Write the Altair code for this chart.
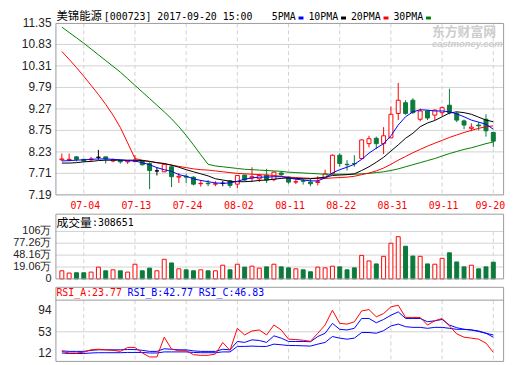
import altair as alt
import pandas as pd

# ---------------- data ----------------
dates = ["06-29", "06-30", "07-03", "07-04", "07-05", "07-06", "07-07", "07-10", "07-11", "07-12",
         "07-13", "07-14", "07-17", "07-18", "07-19", "07-20", "07-21", "07-24", "07-25", "07-26",
         "07-27", "07-28", "07-31", "08-01", "08-02", "08-03", "08-04", "08-07", "08-08", "08-09",
         "08-10", "08-11", "08-14", "08-15", "08-16", "08-17", "08-18", "08-21", "08-22", "08-23",
         "08-24", "08-25", "08-28", "08-29", "08-30", "08-31", "09-01", "09-04", "09-05", "09-06",
         "09-07", "09-08", "09-11", "09-12", "09-13", "09-14", "09-15", "09-18", "09-19", "09-20"]

opens = [8.04, 8.04, 8.11, 8.05, 8.04, 8.10, 8.11, 8.01, 8.02, 7.99,
         8.00, 8.01, 7.95, 7.77, 7.75, 7.87, 7.62, 7.64, 7.62, 7.46,
         7.47, 7.45, 7.47, 7.53, 7.45, 7.67, 7.60, 7.58, 7.67, 7.56,
         7.72, 7.62, 7.50, 7.53, 7.50, 7.49, 7.60, 7.71, 8.15, 7.93,
         7.95, 8.07, 8.43, 8.56, 8.43, 8.57, 9.16, 9.42, 9.48, 9.02,
         9.22, 9.12, 9.18, 9.36, 9.16, 8.98, 8.80, 8.88, 9.02, 8.70]
highs = [8.19, 8.19, 8.13, 8.06, 8.11, 8.28, 8.12, 8.07, 8.03, 8.03,
         8.15, 8.03, 7.98, 7.86, 7.95, 7.92, 7.72, 7.70, 7.64, 7.55,
         7.55, 7.52, 7.53, 7.55, 7.67, 7.68, 7.86, 7.70, 7.82, 7.76,
         7.76, 7.63, 7.58, 7.58, 7.57, 7.64, 7.80, 8.17, 8.20, 8.03,
         8.15, 8.53, 8.62, 8.60, 8.83, 9.33, 9.90, 9.48, 9.53, 9.28,
         9.24, 9.26, 9.33, 9.76, 9.20, 9.01, 8.92, 8.95, 9.14, 8.72]
lows = [8.01, 8.00, 8.00, 8.00, 8.01, 8.04, 7.95, 7.98, 7.95, 7.94,
        7.98, 7.90, 7.33, 7.66, 7.74, 7.38, 7.48, 7.48, 7.42, 7.39,
        7.40, 7.40, 7.40, 7.36, 7.35, 7.52, 7.50, 7.50, 7.48, 7.52,
        7.65, 7.46, 7.45, 7.44, 7.40, 7.42, 7.60, 7.68, 7.87, 7.78,
        7.87, 8.05, 8.34, 8.30, 8.18, 8.56, 9.00, 9.13, 9.15, 8.97,
        9.00, 9.00, 9.10, 9.14, 8.95, 8.78, 8.73, 8.75, 8.60, 8.35]
closes = [8.06, 8.05, 8.05, 8.01, 8.06, 8.10, 8.06, 8.04, 7.99, 8.01,
          8.03, 7.92, 7.78, 7.77, 7.93, 7.63, 7.64, 7.62, 7.45, 7.47,
          7.46, 7.46, 7.47, 7.42, 7.66, 7.55, 7.63, 7.66, 7.55, 7.74,
          7.68, 7.50, 7.51, 7.52, 7.46, 7.51, 7.70, 8.15, 7.95, 7.92,
          7.94, 8.52, 8.55, 8.43, 8.62, 9.14, 9.48, 9.16, 9.18, 9.22,
          9.05, 9.24, 9.30, 9.18, 9.00, 8.88, 8.83, 8.86, 8.74, 8.49]

ma5 = [8.01, 8.02, 8.03, 8.04, 8.05, 8.06, 8.06, 8.05, 8.04, 8.02,
       8.01, 7.97, 7.92, 7.85, 7.80, 7.76, 7.68, 7.64, 7.58, 7.54,
       7.51, 7.48, 7.47, 7.48, 7.52, 7.57, 7.60, 7.62, 7.62, 7.63,
       7.63, 7.60, 7.57, 7.55, 7.53, 7.53, 7.60, 7.72, 7.80, 7.86,
       7.93, 8.05, 8.20, 8.32, 8.43, 8.62, 8.88, 9.08, 9.20, 9.25,
       9.24, 9.22, 9.22, 9.20, 9.15, 9.08, 9.00, 8.95, 8.90, 8.78]
ma10 = [7.96, 7.96, 7.97, 7.99, 8.00, 8.02, 8.03, 8.03, 8.03, 8.03,
        8.03, 8.02, 8.00, 7.97, 7.95, 7.91, 7.86, 7.80, 7.75, 7.70,
        7.65, 7.58, 7.55, 7.52, 7.51, 7.51, 7.52, 7.54, 7.55, 7.57,
        7.59, 7.60, 7.59, 7.58, 7.58, 7.60, 7.62, 7.66, 7.67, 7.68,
        7.70, 7.78, 7.87, 7.98, 8.10, 8.25, 8.40, 8.56, 8.68, 8.84,
        8.93, 8.99, 9.08, 9.17, 9.20, 9.18, 9.14, 9.07, 9.00, 8.96]
ma20 = [10.66, 10.47, 10.27, 10.06, 9.84, 9.62, 9.38, 9.12, 8.82, 8.45,
        8.07, 8.03, 8.00, 7.97, 7.94, 7.91, 7.88, 7.85, 7.82, 7.80,
        7.79, 7.77, 7.75, 7.73, 7.71, 7.70, 7.69, 7.68, 7.67, 7.66,
        7.64, 7.62, 7.61, 7.60, 7.59, 7.59, 7.59, 7.60, 7.61, 7.62,
        7.64, 7.68, 7.72, 7.77, 7.84, 7.93, 8.03, 8.12, 8.21, 8.29,
        8.37, 8.44, 8.51, 8.58, 8.64, 8.70, 8.75, 8.80, 8.84, 8.86]
ma30 = [11.25, 11.12, 10.99, 10.86, 10.72, 10.58, 10.44, 10.30, 10.16, 10.00,
        9.84, 9.68, 9.52, 9.36, 9.20, 9.03, 8.84, 8.63, 8.40, 8.16,
        7.93, 7.89, 7.87, 7.85, 7.83, 7.81, 7.80, 7.79, 7.78, 7.77,
        7.76, 7.74, 7.73, 7.72, 7.71, 7.70, 7.69, 7.69, 7.69, 7.69,
        7.69, 7.70, 7.71, 7.73, 7.75, 7.78, 7.82, 7.87, 7.92, 7.97,
        8.02, 8.07, 8.13, 8.19, 8.24, 8.29, 8.33, 8.38, 8.43, 8.47]

volume_wan = [9.8, 4.3, 5.0, 5.0, 6.6, 18.7, 9.8, 12.2, 9.8, 6.6,
              25.9, 9.8, 16.3, 9.8, 37.9, 29.0, 14.6, 12.2, 9.8, 12.2,
              9.8, 9.8, 23.5, 12.2, 25.9, 18.7, 21.1, 16.3, 19.4, 25.9,
              19.4, 17.0, 14.6, 12.2, 7.4, 18.7, 17.0, 21.1, 19.4, 12.2,
              17.0, 47.5, 33.9, 26.6, 45.2, 77.1, 93.2, 69.9, 45.9, 45.2,
              26.6, 25.9, 40.3, 53.8, 31.4, 19.4, 23.5, 14.6, 19.4, 30.87]

rsi_a = [16, 13, 13, 14.5, 19, 20, 19, 18, 16, 23.5,
         23.5, 13, 5.5, 5.5, 42.7, 20.4, 17.3, 17.3, 9.8, 8.6,
         8.6, 11, 32.8, 18, 59.5, 47, 54.5, 56.4, 47, 65.7,
         56.4, 39, 38.3, 37, 35, 50.2, 65.7, 93.6, 68.8, 67.5,
         71.8, 92.3, 94.8, 81.2, 87.4, 100, 103, 80, 80, 80,
         65.7, 73.7, 78, 64, 49, 42.8, 41, 39, 31.6, 14.2]
rsi_b = [17, 16, 16, 16, 18, 19, 19, 19, 19, 19.5,
         19.5, 18, 16, 16, 21, 20, 19, 19, 17, 16,
         16, 16, 20, 19, 34.7, 33, 37.8, 36.6, 32.9, 45.3,
         41, 34.7, 34.7, 34.7, 34.2, 44, 50.2, 68.8, 57.6, 56.4,
         59.5, 78.1, 78.1, 70, 76.2, 84.2, 90.5, 78.1, 78.1, 78.1,
         71.9, 73.7, 76.2, 65.7, 60.7, 57.6, 56.4, 54.5, 50.2, 42.8]
rsi_c = [13, 12, 12, 12, 13, 13.5, 13.5, 13.5, 13.5, 14,
         14, 14, 13, 13, 15, 15, 15, 15, 14, 13.5,
         13.5, 13.5, 15, 15, 25.4, 25.4, 26, 25.4, 25.4, 29.7,
         28.5, 27, 27, 26.5, 26, 29.7, 32.9, 44, 41, 39,
         41, 51.6, 51.6, 50.2, 55.1, 63.9, 67.5, 62.6, 61.3, 61.3,
         59.5, 61.3, 61.3, 59.5, 57.6, 57.6, 56.4, 53.4, 50.2, 47]

price_ticks = [11.35, 10.83, 10.31, 9.79, 9.27, 8.75, 8.23, 7.71, 7.19]
vol_ticks = [106, 77.26, 48.16, 19.06, -10.04]
vol_tick_labels = ["106万", "77.26万", "48.16万", "19.06万", "0"]
rsi_ticks = [94, 53, 12]
date_tick_idx = [3, 10, 17, 24, 31, 38, 45, 52, 59]

stock_name = "美锦能源"
stock_info = "[000723] 2017-09-20 15:00"
ma_names = ["5PMA", "10PMA", "20PMA", "30PMA"]
vol_title = "成交量"
vol_last = 308651
rsi_names = ["RSI_A", "RSI_B", "RSI_C"]
rsi_last = [23.77, 42.77, 46.83]
watermark_cn = "东方财富网"
watermark_en = "eastmoney.com"

# ---------------- styling / geometry ----------------
RED = "#ff0000"
GREEN = "#0b7a3b"
BLUE = "#0000ff"
BLACK = "#000000"
MAGREEN = "#008000"
GRID = "#d2d2d2"
BORDER = "#9a9a9a"
LABEL = "#222222"
MONO = "DejaVu Sans Mono"
CJK = "Noto Sans CJK SC"
NUMF = "Liberation Sans"

W, H = 454, 343
P_TOP, P_BOT = 0.5, 174
V_TOP, V_GRID_TOP, V_BOT = 193.5, 211, 259
R_TOP, R_SEP, R_BOT = 267.5, 280.5, 342.5

n = len(dates)
df = pd.DataFrame({
    "i": list(range(n)), "date": dates,
    "o": opens, "h": highs, "l": lows, "c": closes,
    "ma5": ma5, "ma10": ma10, "ma20": ma20, "ma30": ma30,
    "vol": volume_wan, "ra": rsi_a, "rb": rsi_b, "rc": rsi_c,
})
df["dir"] = ["up" if c > o else ("down" if c < o else "flat") for o, c in zip(opens, closes)]
df["vdir"] = ["up" if c >= o else "down" for o, c in zip(opens, closes)]

xs = alt.Scale(domain=[-0.2, n - 0.2], range=[0, W], nice=False, zero=False)
ps = alt.Scale(domain=[price_ticks[-1], price_ticks[0]], range=[P_BOT, 0], nice=False, zero=False)
vs = alt.Scale(domain=[vol_ticks[-1], vol_ticks[0]], range=[V_BOT, V_GRID_TOP], nice=False, zero=False)
rs = alt.Scale(domain=[12, 94], range=[334.5, 290.5], nice=False, zero=False)
stroke_scale = alt.Scale(domain=["up", "down", "flat"], range=[RED, GREEN, BLACK])
fill_scale = alt.Scale(domain=["up", "down", "flat"], range=["#ffffff", GREEN, BLACK])

X = alt.X("i:Q", scale=xs, axis=None)
one = pd.DataFrame({"a": [0]})
base = alt.Chart(df)

layers = []

# gridlines
layers.append(alt.Chart(pd.DataFrame({"v": price_ticks[1:-1]})).mark_rule(color=GRID).encode(
    y=alt.Y("v:Q", scale=ps, axis=None), x=alt.value(0), x2=alt.value(W)))
layers.append(alt.Chart(pd.DataFrame({"v": vol_ticks[:-1]})).mark_rule(color=GRID).encode(
    y=alt.Y("v:Q", scale=vs, axis=None), x=alt.value(0), x2=alt.value(W)))
layers.append(alt.Chart(pd.DataFrame({"v": [53]})).mark_rule(color=GRID).encode(
    y=alt.Y("v:Q", scale=rs, axis=None), x=alt.value(0), x2=alt.value(W)))
tick_df = pd.DataFrame({"i": date_tick_idx, "label": [dates[k] for k in date_tick_idx]})
for top, bot in [(P_TOP, P_BOT), (V_GRID_TOP, V_BOT), (R_SEP, R_BOT)]:
    layers.append(alt.Chart(tick_df).mark_rule(color=GRID, strokeDash=[4, 3]).encode(
        x=X, y=alt.value(top), y2=alt.value(bot)))

# candlesticks
layers.append(base.mark_rule(strokeWidth=1).encode(
    x=X, y=alt.Y("l:Q", scale=ps, axis=None), y2="h:Q",
    color=alt.Color("dir:N", scale=stroke_scale, legend=None)))
layers.append(base.mark_bar(size=4, strokeWidth=1).encode(
    x=X, y=alt.Y("o:Q", scale=ps, axis=None), y2="c:Q",
    fill=alt.Fill("dir:N", scale=fill_scale, legend=None),
    stroke=alt.Stroke("dir:N", scale=stroke_scale, legend=None)))

# moving averages
for col, colr in [("ma30", MAGREEN), ("ma20", RED), ("ma10", BLACK), ("ma5", BLUE)]:
    layers.append(base.mark_line(color=colr, strokeWidth=1).encode(
        x=X, y=alt.Y(f"{col}:Q", scale=ps, axis=None)))

# volume
layers.append(base.mark_bar(size=4, strokeWidth=1).encode(
    x=X, y=alt.Y("vol:Q", scale=vs, axis=None), y2=alt.datum(vol_ticks[-1]),
    fill=alt.Fill("vdir:N", scale=fill_scale, legend=None),
    stroke=alt.Stroke("vdir:N", scale=stroke_scale, legend=None)))

# RSI
for col, colr in [("rc", BLUE), ("rb", BLUE), ("ra", RED)]:
    layers.append(base.mark_line(color=colr, strokeWidth=1).encode(
        x=X, y=alt.Y(f"{col}:Q", scale=rs, axis=None)))

# panel borders
for top, bot in [(P_TOP, P_BOT), (V_TOP, V_BOT), (R_TOP, R_BOT)]:
    layers.append(alt.Chart(one).mark_rect(fillOpacity=0, stroke=BORDER, strokeWidth=1).encode(
        x=alt.value(0.5), x2=alt.value(W - 0.5), y=alt.value(top), y2=alt.value(bot)))
layers.append(alt.Chart(one).mark_rule(color=BORDER).encode(
    x=alt.value(0), x2=alt.value(W), y=alt.value(R_SEP)))

# tick labels
lab = dict(align="right", baseline="middle", font=NUMF, fontSize=12, color=LABEL)
layers.append(alt.Chart(pd.DataFrame({"v": price_ticks, "t": [f"{v:.2f}" for v in price_ticks]}))
              .mark_text(**lab).encode(y=alt.Y("v:Q", scale=ps, axis=None), x=alt.value(-4), text="t:N"))
lab_v = dict(lab, fontSize=11)
layers.append(alt.Chart(pd.DataFrame({"v": vol_ticks, "t": vol_tick_labels}))
              .mark_text(**lab_v).encode(y=alt.Y("v:Q", scale=vs, axis=None), x=alt.value(-4), text="t:N"))
layers.append(alt.Chart(pd.DataFrame({"v": rsi_ticks, "t": [str(v) for v in rsi_ticks]}))
              .mark_text(**lab).encode(y=alt.Y("v:Q", scale=rs, axis=None), x=alt.value(-4), text="t:N"))
date_style = dict(align="center", baseline="middle", font=MONO, fontSize=10, color=RED)
layers.append(alt.Chart(tick_df.iloc[:-1]).mark_text(dx=1.5, **date_style).encode(
    x=X, y=alt.value(185), text="label:N"))
layers.append(alt.Chart(tick_df.iloc[-1:]).mark_text(dx=-3, **date_style).encode(
    x=X, y=alt.value(185), text="label:N"))

# headers
def txt(s, x, y, color=BLACK, font=MONO, size=10, baseline="middle", **kw):
    return alt.Chart(one).mark_text(align="left", baseline=baseline, font=font, fontSize=size,
                                    color=color, text=s, **kw).encode(x=alt.value(x), y=alt.value(y))

layers.append(txt(stock_name, 1, -5.5, font=CJK, size=11.5))
layers.append(txt(stock_info, 1 + 12 * len(stock_name), -5.5))
ma_colors = [BLUE, BLACK, RED, MAGREEN]
lx = 219
for name, colr in zip(ma_names, ma_colors):
    layers.append(txt(name, lx, -5.5))
    mx = lx + 6 * len(name) + 3
    layers.append(alt.Chart(one).mark_rect(color=colr).encode(
        x=alt.value(mx), x2=alt.value(mx + 5), y=alt.value(-6.5), y2=alt.value(-3.5)))
    lx += 6 * len(name) + 13

layers.append(txt(watermark_cn, 381, 9, color="#cdcdcd", font=CJK, size=13, fontWeight="bold"))
layers.append(txt(watermark_en, 381, 21, color="#cdcdcd", font=NUMF, size=9.5,
                  fontWeight="bold", fontStyle="italic"))

layers.append(txt(vol_title, 1, 202, font=CJK, size=12))
layers.append(txt(f":{vol_last}", 1 + 12 * len(vol_title), 202))

rx = 1
for name, val, colr in zip(rsi_names, rsi_last, [RED, BLUE, BLUE]):
    s = f"{name}:{val:.2f}"
    layers.append(txt(s, rx, 273, color=colr))
    rx += 6 * (len(s) + 1)

chart = alt.layer(*layers).resolve_scale(y="independent").properties(
    width=W, height=H,
    autosize=alt.AutoSizeParams(type="none"),
    padding={"left": 48, "top": 13, "right": 8, "bottom": 1},
).configure_view(strokeWidth=0)

chart.save("out.html", embed_options={"renderer": "svg", "actions": False})
